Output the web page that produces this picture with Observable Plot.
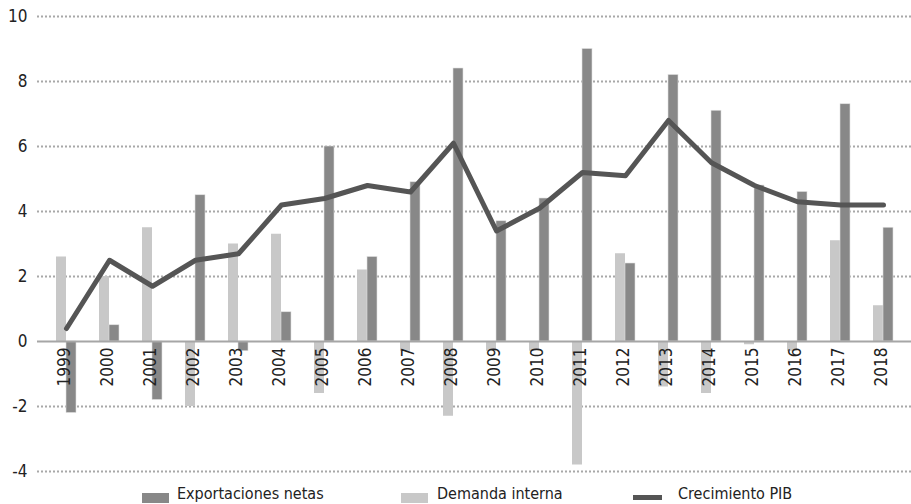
<!DOCTYPE html>
<html>
<head>
<meta charset="utf-8">
<script src="https://cdn.jsdelivr.net/npm/d3@7"></script>
<script src="https://cdn.jsdelivr.net/npm/@observablehq/plot@0.6"></script>
<style>
  body { margin: 0; background: #fff; }
  #wrap { position: relative; width: 911px; height: 504px; overflow: hidden; font-family: "DejaVu Sans Condensed", "DejaVu Sans", sans-serif; color: #222; }
  #wrap svg { display: block; }
  .sw { position: absolute; }
  .lg { position: absolute; font-size: 16px; line-height: 16px; white-space: nowrap; color: #222; }
</style>
</head>
<body>
<div id="wrap"></div>
<script>
const years = ["1999","2000","2001","2002","2003","2004","2005","2006","2007","2008","2009","2010","2011","2012","2013","2014","2015","2016","2017","2018"];
const exportacionesNetas = [-2.2, 0.5, -1.8, 4.5, -0.3, 0.9, 6.0, 2.6, 4.9, 8.4, 3.7, 4.4, 9.0, 2.4, 8.2, 7.1, 4.8, 4.6, 7.3, 3.5];
const demandaInterna = [2.6, 2.0, 3.5, -2.0, 3.0, 3.3, -1.6, 2.2, -0.3, -2.3, -0.3, -0.3, -3.8, 2.7, -1.4, -1.6, -0.1, -0.3, 3.1, 1.1];
const crecimientoPIB = [0.4, 2.5, 1.7, 2.5, 2.7, 4.2, 4.4, 4.8, 4.6, 6.1, 3.4, 4.1, 5.2, 5.1, 6.8, 5.5, 4.8, 4.3, 4.2, 4.2];
const yTicks = [-4, -2, 0, 2, 4, 6, 8, 10];
const seriesNames = ["Exportaciones netas", "Demanda interna", "Crecimiento PIB"];

const rows = years.map((y, i) => ({year: y, exp: exportacionesNetas[i], dem: demandaInterna[i], pib: crecimientoPIB[i]}));

const fontFamily = '"DejaVu Sans Condensed", "DejaVu Sans", sans-serif';
const halfBar = 10;

const chart = Plot.plot({
  width: 911,
  height: 484,
  marginLeft: 37,
  marginRight: 0,
  marginTop: 16,
  marginBottom: 13,
  style: {fontFamily, fontSize: "16px", color: "#222", background: "#fff"},
  x: {type: "band", domain: years, paddingInner: 0.537, paddingOuter: 0.39, align: 0.5, axis: null},
  y: {domain: [-4, 10], ticks: yTicks, axis: null},
  marks: [
    Plot.ruleY(yTicks.filter(t => t !== 0), {stroke: "#a8a8a8", strokeWidth: 2, strokeDasharray: "2,2"}),
    Plot.barY(rows, {x: "year", y: "dem", fill: "#c8c8c8", insetRight: halfBar}),
    Plot.barY(rows, {x: "year", y: "exp", fill: "#888888", stroke: "#e0e0e0", strokeWidth: 0.6, insetLeft: halfBar}),
    Plot.ruleY([0], {stroke: "#a6a6a6", strokeWidth: 2}),
    Plot.lineY(rows, {x: "year", y: "pib", stroke: "#555555", strokeWidth: 5, strokeLinejoin: "round", strokeLinecap: "round"}),
    Plot.text(rows, {x: "year", y: () => 0, text: "year", rotate: -90, textAnchor: "end", dy: 6, dx: -2, fill: "#222", fontSize: 17}),
    Plot.axisY({ticks: yTicks, tickSize: 0, tickPadding: 10, fontSize: 17, label: null, tickFormat: d => String(d)})
  ]
});

const wrap = document.getElementById("wrap");
wrap.appendChild(chart);

const legend = [
  {name: seriesNames[0], type: "rect", color: "#888888", sx: 142, sw: 27, tx: 177},
  {name: seriesNames[1], type: "rect", color: "#c8c8c8", sx: 401, sw: 27, tx: 437},
  {name: seriesNames[2], type: "line", color: "#555555", sx: 633, sw: 29, tx: 678}
];
for (const item of legend) {
  const sw = document.createElement("div");
  sw.className = "sw";
  sw.style.left = item.sx + "px";
  sw.style.width = item.sw + "px";
  sw.style.background = item.color;
  if (item.type === "rect") { sw.style.top = "493px"; sw.style.height = "10px"; }
  else { sw.style.top = "495px"; sw.style.height = "5px"; }
  wrap.appendChild(sw);
  const t = document.createElement("div");
  t.className = "lg";
  t.style.left = item.tx + "px";
  t.style.top = "486px";
  t.textContent = item.name;
  wrap.appendChild(t);
}
</script>
</body>
</html>
